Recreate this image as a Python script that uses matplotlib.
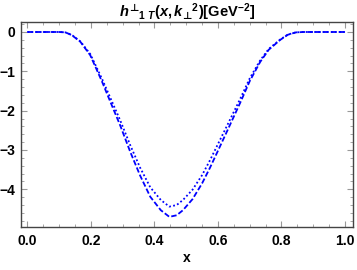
import matplotlib
matplotlib.use("Agg")
import matplotlib.pyplot as plt
import numpy as np
from matplotlib.ticker import MultipleLocator, FormatStrFormatter

plt.rcParams['font.family'] = ['Liberation Sans', 'DejaVu Sans']
plt.rcParams['font.weight'] = 'bold'
plt.rcParams['mathtext.fontset'] = 'custom'
plt.rcParams['mathtext.it'] = 'Liberation Sans:italic:bold'
plt.rcParams['mathtext.rm'] = 'Liberation Sans:bold'
plt.rcParams['mathtext.bf'] = 'Liberation Sans:bold'
plt.rcParams['mathtext.sf'] = 'DejaVu Sans:bold'
plt.rcParams['mathtext.fallback'] = 'stixsans'

# valores
x_vals = [0.0, 0.05, 0.10, 0.12, 0.14, 0.167, 0.198, 0.235, 0.261, 0.292,
          0.324, 0.355, 0.387, 0.42, 0.447, 0.47, 0.49, 0.52, 0.55, 0.575,
          0.60, 0.63, 0.67, 0.70, 0.733, 0.76, 0.796, 0.82, 0.845, 0.87,
          0.90, 0.95, 1.0]
h_tracejada = [0.0, 0.0, 0.0, -0.01, -0.08, -0.25, -0.59, -1.26, -1.77, -2.37,
               -3.05, -3.65, -4.19, -4.53, -4.70, -4.66, -4.53, -4.25, -3.85, -3.45,
               -3.02, -2.50, -1.80, -1.25, -0.76, -0.45, -0.20, -0.07, -0.01, 0.0,
               0.0, 0.0, 0.0]
h_pontilhada = [0.0, 0.0, 0.0, -0.01, -0.075, -0.24, -0.56, -1.19, -1.67, -2.24,
                -2.88, -3.45, -3.95, -4.27, -4.44, -4.40, -4.27, -4.01, -3.64, -3.26,
                -2.85, -2.36, -1.70, -1.18, -0.72, -0.43, -0.19, -0.065, -0.01, 0.0,
                0.0, 0.0, 0.0]

fig = plt.figure(figsize=(3.57, 2.70), dpi=100)
ax = fig.add_axes([0.0588, 0.159, 0.929, 0.7595])

ax.plot(x_vals, h_tracejada, color=(0, 0, 1), lw=1.3, dashes=(3, 1.3))
ax.plot(x_vals, h_pontilhada, color=(0, 0, 1), lw=1.3, dashes=(1, 1.3))

ax.set_xlim(-0.02, 1.024)
ax.set_ylim(-4.96, 0.254)
ax.xaxis.set_major_locator(MultipleLocator(0.2))
ax.xaxis.set_minor_locator(MultipleLocator(0.05))
ax.yaxis.set_major_locator(MultipleLocator(1))
ax.yaxis.set_minor_locator(MultipleLocator(0.2))
ax.xaxis.set_major_formatter(FormatStrFormatter('%.1f'))
ax.tick_params(which='both', direction='in', top=True, right=True,
               color='#999999', labelsize=10)
ax.tick_params(which='major', length=4, width=0.8)
ax.tick_params(which='minor', length=2, width=0.6)
ax.tick_params(axis='y', pad=4)
ax.tick_params(axis='x', pad=5)
for s in ax.spines.values():
    s.set_color('#444444')
    s.set_linewidth(1.0)

ax.set_xlabel('x', fontsize=10, fontweight='bold', labelpad=2)
ax.set_title('$h^{\\mathsf{\u22a5}}{}_{1\\ T}(x,k_{\\mathsf{\u22a5}}{}^{2})[\\mathrm{GeV}^{-2}]$',
             fontsize=10.5, pad=3)

fig.savefig('out.png', dpi=100)
